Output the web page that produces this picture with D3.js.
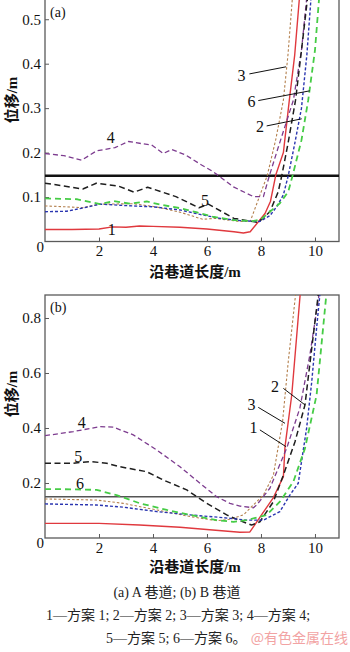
<!DOCTYPE html>
<html><head><meta charset="utf-8">
<script src="https://cdn.jsdelivr.net/npm/d3@7"></script>
<style>html,body{margin:0;padding:0;background:#fff;}svg{display:block;}</style>
</head><body>
<script>
// ---------- data ----------
const xTicks = [2, 4, 6, 8, 10];
const yTicksA = [0.1, 0.2, 0.3, 0.4, 0.5];
const yTicksB = [0.2, 0.4, 0.6, 0.8];
const limitA = 0.148;
const limitB = 0.150;

// chart (a) — A 巷道
const a1 = [[0,0.027],[1,0.027],[2,0.028],[2.5,0.033],[3,0.032],[3.5,0.035],[4,0.034],[5,0.032],[6,0.028],[7,0.022],[7.35,0.019],[7.6,0.022],[8.15,0.063],[8.35,0.09],[8.55,0.15],[8.83,0.2],[9.05,0.318],[9.25,0.42],[9.42,0.545]];
const a2 = [[0,0.067],[0.8,0.068],[1.6,0.078],[2.04,0.084],[3.27,0.08],[4.0,0.078],[5.0,0.071],[5.74,0.061],[6.48,0.052],[7.22,0.047],[7.96,0.045],[8.33,0.058],[8.6,0.08],[8.83,0.105],[9.01,0.148],[9.25,0.22],[9.5,0.3],[9.7,0.42],[9.85,0.545]];
const a3 = [[0,0.08],[0.8,0.078],[1.4,0.076],[2.0,0.084],[3.27,0.085],[4.1,0.078],[5.0,0.066],[5.84,0.05],[6.3,0.052],[7.2,0.045],[7.6,0.045],[8.23,0.148],[8.55,0.23],[8.83,0.318],[9.0,0.42],[9.16,0.545]];
const a4 = [[0,0.198],[0.7,0.193],[1.36,0.183],[1.91,0.204],[2.59,0.211],[3.09,0.225],[3.6,0.22],[3.95,0.217],[4.38,0.198],[4.69,0.207],[5.2,0.195],[5.8,0.172],[6.23,0.157],[6.98,0.123],[7.72,0.101],[8.09,0.101],[8.31,0.148],[8.63,0.21],[9.2,0.318],[9.5,0.43],[9.69,0.545]];
const a5 = [[0,0.131],[0.7,0.125],[1.4,0.118],[1.9,0.131],[2.7,0.125],[3.3,0.111],[3.8,0.122],[4.85,0.101],[5.7,0.076],[6.05,0.084],[7.0,0.052],[7.7,0.045],[7.9,0.043],[8.33,0.067],[8.64,0.112],[8.77,0.148],[9.0,0.22],[9.28,0.318],[9.5,0.43],[9.72,0.545]];
const a6 = [[0,0.097],[1.2,0.095],[2.04,0.084],[2.53,0.091],[3.15,0.085],[3.77,0.09],[4.26,0.083],[5.0,0.075],[5.6,0.066],[6.2,0.056],[7.0,0.048],[7.7,0.046],[8.0,0.05],[8.7,0.086],[9.01,0.112],[9.17,0.148],[9.5,0.228],[9.75,0.318],[10.0,0.43],[10.15,0.545]];

// chart (b) — B 巷道
const b1 = [[0,0.053],[2,0.053],[3.5,0.047],[5,0.039],[6.1,0.03],[7.22,0.021],[7.59,0.022],[8.02,0.084],[8.46,0.147],[8.83,0.223],[8.89,0.332],[9.14,0.52],[9.45,0.884]];
const b2 = [[0,0.124],[1.91,0.12],[2.9,0.112],[4.14,0.096],[5.37,0.084],[6.6,0.074],[7.47,0.065],[8.09,0.065],[8.7,0.096],[9.07,0.156],[9.38,0.199],[9.69,0.399],[9.88,0.568],[10.06,0.763],[10.18,0.884]];
const b3 = [[0,0.142],[1.91,0.138],[2.9,0.126],[4.14,0.102],[5.37,0.078],[6.36,0.063],[6.85,0.068],[7.35,0.084],[7.84,0.132],[8.09,0.156],[8.46,0.229],[8.8,0.423],[9.01,0.641],[9.28,0.884]];
const b4 = [[0,0.372],[1.05,0.387],[2.04,0.405],[2.53,0.403],[3.27,0.375],[4.14,0.32],[5.0,0.259],[5.74,0.199],[6.36,0.15],[6.85,0.126],[7.22,0.116],[7.72,0.11],[7.84,0.12],[8.33,0.181],[8.95,0.326],[9.44,0.472],[9.81,0.665],[10.15,0.884]];
const b5 = [[0,0.272],[1.05,0.272],[1.67,0.278],[2.28,0.272],[2.78,0.259],[3.77,0.241],[4.38,0.211],[5.25,0.175],[5.99,0.126],[6.73,0.084],[7.22,0.063],[7.65,0.047],[7.96,0.059],[8.46,0.132],[8.83,0.229],[9.26,0.35],[9.63,0.484],[9.88,0.69],[10.12,0.884]];
const b6 = [[0,0.178],[1.05,0.177],[1.91,0.175],[2.65,0.156],[3.52,0.126],[4.51,0.102],[5.37,0.084],[6.36,0.065],[6.98,0.059],[7.47,0.065],[8.21,0.084],[8.7,0.132],[9.2,0.205],[9.63,0.326],[10.06,0.52],[10.42,0.884]];

const seriesNames = ["1","2","3","4","5","6"];
const colors = ["#e0393e","#2a35b0","#b4804e","#7d3c8f","#1e1e1e","#46cc46"];
const dashes = [null,"3,2","2.5,2","5,3","6,3.5","6,4"];
const widths = [1.4,1.4,1.1,1.3,1.5,1.8];

// label annotations [text, x, y(baseline), leaderX1, leaderY1, leaderX2, leaderY2] in data units
const labelsA = [["1",2.47,0.0146],["4",2.44,0.221],["5",5.93,0.0805],
  ["3",7.28,0.36,7.57,0.377,8.93,0.393],["6",7.65,0.303,7.9,0.317,9.81,0.339],["2",7.96,0.247,8.21,0.26,9.51,0.276]];
const labelsB = [["4",1.36,0.399],["5",1.23,0.277],["6",1.3,0.177],
  ["2",8.52,0.532,8.83,0.544,9.63,0.484],["3",7.65,0.465,7.9,0.475,8.89,0.417],["1",7.72,0.381,7.96,0.393,8.93,0.332]];
const captions = ["(a) A 巷道; (b) B 巷道","1—方案 1; 2—方案 2; 3—方案 3; 4—方案 4;","5—方案 5; 6—方案 6。"];
const watermark = "@有色金属在线";

// ---------- drawing ----------
const W = 350, H = 652;
const serif = "'Liberation Serif','Times New Roman',serif";
const cjk = "'Liberation Serif','Noto Sans CJK SC',serif";
const svg = d3.select("body").append("svg").attr("width",W).attr("height",H)
  .attr("font-family",serif);
svg.append("rect").attr("width",W).attr("height",H).attr("fill","#fff");

function panel(opts){
  const {top,bottom,ymax,yTicks,data,labels,limit,limitColor,limitWidth,tag,id,frameTop,yTitleY,xTitleY} = opts;
  const x = d3.scaleLinear().domain([0,10.89]).range([45,339]);
  const y = d3.scaleLinear().domain([0,ymax]).range([bottom,top]);
  const g = svg.append("g");
  g.append("clipPath").attr("id",id).append("rect")
    .attr("x",x(0)).attr("y",top).attr("width",x(10.89)-x(0)).attr("height",bottom-top);

  // frame
  g.append("rect").attr("x",x(0)).attr("y",frameTop).attr("width",x(10.89)-x(0)).attr("height",bottom-frameTop)
    .attr("fill","none").attr("stroke","#5a5a5a").attr("stroke-width",1.3);

  // axes
  const xa = g.append("g").attr("transform",`translate(0,${bottom})`)
    .call(d3.axisBottom(x).tickValues(xTicks).tickSize(-4).tickPadding(4).tickFormat(d3.format("d")));
  const ya = g.append("g").attr("transform",`translate(${x(0)},0)`)
    .call(d3.axisLeft(y).tickValues(yTicks).tickSize(-4).tickPadding(4).tickFormat(d3.format(".1f")));
  [xa,ya].forEach(a=>{
    a.select(".domain").remove();
    a.selectAll("line").attr("stroke","#5a5a5a").attr("stroke-width",1);
    a.selectAll("text").attr("font-family",serif).attr("font-size",15).attr("fill","#111");
  });
  g.append("text").attr("x",x(0)-1).attr("y",y(0)+10).attr("text-anchor","end")
    .attr("font-size",15).attr("fill","#111").text("0");

  // limit line
  g.append("line").attr("x1",x(0)).attr("x2",x(10.89)).attr("y1",y(limit)).attr("y2",y(limit))
    .attr("stroke",limitColor).attr("stroke-width",limitWidth);

  // series
  const line = d3.line().x(d=>x(d[0])).y(d=>y(d[1]));
  const order = [0,2,3,4,1,5];
  const lg = g.append("g").attr("clip-path",`url(#${id})`);
  order.forEach(i=>{
    lg.append("path").attr("d",line(data[i])).attr("fill","none")
      .attr("stroke",colors[i]).attr("stroke-width",widths[i])
      .attr("stroke-dasharray",dashes[i]).attr("stroke-linejoin","round");
  });

  // labels
  labels.forEach(l=>{
    g.append("text").attr("x",x(l[1])).attr("y",y(l[2])).attr("text-anchor","middle")
      .attr("font-size",16).attr("fill","#111").text(l[0]);
    if(l.length>3){
      g.append("line").attr("x1",x(l[3])).attr("y1",y(l[4])).attr("x2",x(l[5])).attr("y2",y(l[6]))
        .attr("stroke","#111").attr("stroke-width",1);
    }
  });

  g.append("text").attr("x",x(0)+5).attr("y",top+17).attr("font-size",14).attr("fill","#111").text(tag);

  // titles
  g.append("text").attr("x",195).attr("y",xTitleY).attr("text-anchor","middle")
    .attr("font-family",cjk).attr("font-weight","bold").attr("font-size",15).attr("fill","#111").text("沿巷道长度/m");
  g.append("text").attr("transform",`translate(17,${yTitleY}) rotate(-90)`).attr("text-anchor","middle")
    .attr("font-family",cjk).attr("font-weight","bold").attr("font-size",15).attr("fill","#111").text("位移/m");
}

panel({top:0,bottom:241.5,ymax:0.5433,yTicks:yTicksA,data:[a1,a2,a3,a4,a5,a6],labels:labelsA,
  limit:limitA,limitColor:"#111",limitWidth:2.5,tag:"(a)",id:"clipA",frameTop:-3,yTitleY:100,xTitleY:277});
panel({top:295,bottom:538,ymax:0.8836,yTicks:yTicksB,data:[b1,b2,b3,b4,b5,b6],labels:labelsB,
  limit:limitB,limitColor:"#555",limitWidth:1.6,tag:"(b)",id:"clipB",frameTop:295,yTitleY:394,xTitleY:572});

// captions
svg.append("text").attr("x",177).attr("y",597).attr("text-anchor","middle").attr("font-family",cjk)
  .attr("font-size",14).attr("fill","#222").text(captions[0]);
svg.append("text").attr("x",178).attr("y",620).attr("text-anchor","middle").attr("font-family",cjk)
  .attr("font-size",14).attr("fill","#222").text(captions[1]);
svg.append("text").attr("x",106).attr("y",643).attr("font-family",cjk)
  .attr("font-size",14).attr("fill","#222").text(captions[2]);
svg.append("text").attr("x",348).attr("y",643).attr("text-anchor","end").attr("font-family","'Noto Sans CJK SC',sans-serif")
  .attr("font-size",14).attr("fill","#f2a3a3").text(watermark);
</script>
</body></html>
